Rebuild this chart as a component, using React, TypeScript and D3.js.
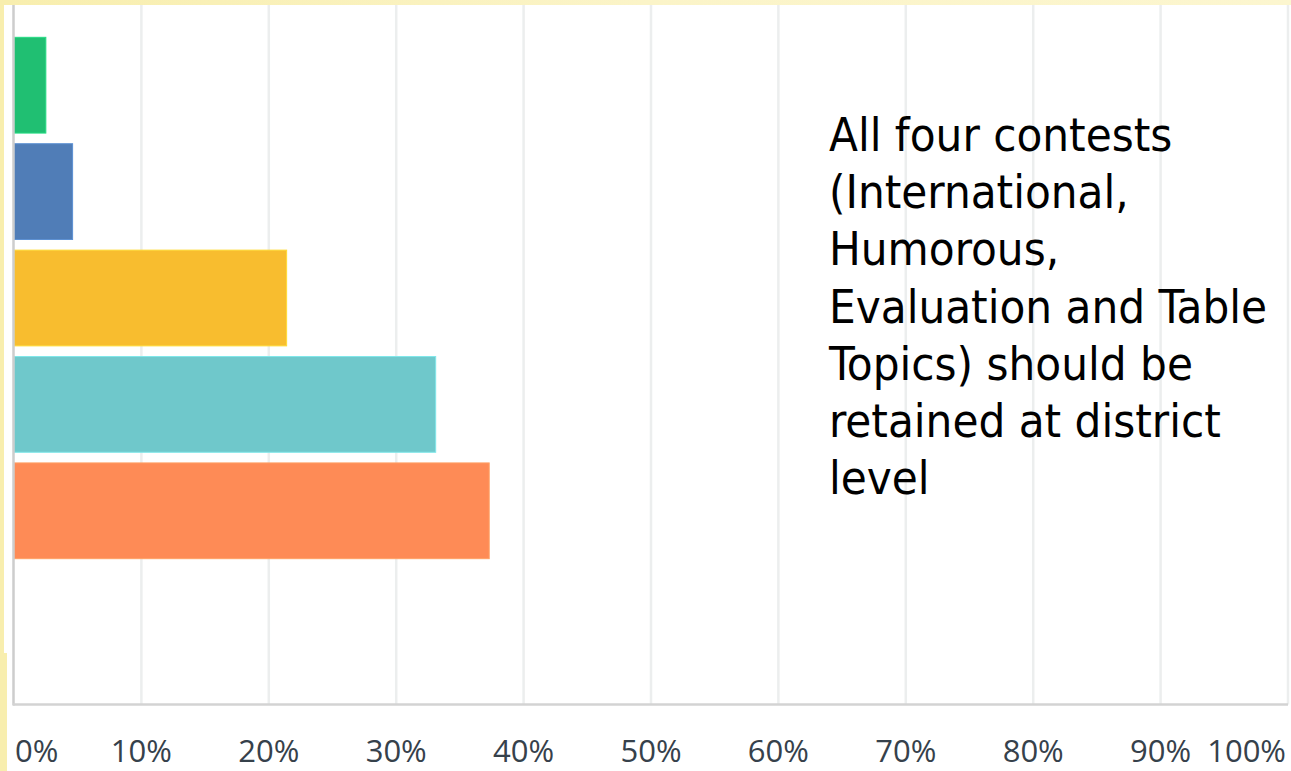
import React from "react";
import * as d3 from "d3";

const categories = ["Option 1", "Option 2", "Option 3", "Option 4", "Option 5"];
const values = [2.5, 4.6, 21.4, 33.1, 37.3];
const barColors = ["#20bf72", "#507db7", "#f8bd2f", "#6fc8cb", "#fe8b56"];
const tickValues = [0, 10, 20, 30, 40, 50, 60, 70, 80, 90, 100];
const tickLabels = ["0%", "10%", "20%", "30%", "40%", "50%", "60%", "70%", "80%", "90%", "100%"];
const noteLines = [
  "All four contests",
  "(International,",
  "Humorous,",
  "Evaluation and Table",
  "Topics) should be",
  "retained at district",
  "level",
];

const W = 1291;
const H = 771;

export default function App() {
  const x = d3.scaleLinear().domain([0, 100]).range([14, 1288]);
  const y = d3
    .scaleBand<string>()
    .domain(categories)
    .range([32, 564])
    .paddingInner(0.1)
    .paddingOuter(0.05);
  const plotTop = 5;
  const plotBottom = 704.5;

  return (
    <svg
      width={W}
      height={H}
      style={{ position: "absolute", left: 0, top: 0, display: "block" }}
    >
      <defs>
        <linearGradient id="yel" x1="0" x2="1" y1="0" y2="0">
          <stop offset="0" stopColor="#f8eeae" />
          <stop offset="0.5" stopColor="#fbf4c8" />
          <stop offset="1" stopColor="#fcf6cf" />
        </linearGradient>
      </defs>
      <rect x={0} y={0} width={W} height={H} fill="url(#yel)" />
      <rect x={0} y={0} width={8} height={H} fill="#f8eeae" />
      <rect x={4} y={5} width={W - 4} height={648} fill="#ffffff" />
      <rect x={7} y={652} width={W - 7} height={H - 652} fill="#ffffff" />

      {/* gridlines */}
      {tickValues.slice(1).map((t) => (
        <line
          key={"g" + t}
          x1={x(t)}
          x2={x(t)}
          y1={plotTop}
          y2={plotBottom}
          stroke="#eceeee"
          strokeWidth={2.5}
        />
      ))}

      {/* bars */}
      {categories.map((c, i) => (
        <rect
          key={c}
          x={x(0)}
          y={y(c)}
          width={x(values[i]) - x(0)}
          height={y.bandwidth()}
          fill={barColors[i]}
          stroke={d3.color(barColors[i])!.brighter(0.4).formatHex()}
          strokeWidth={1}
        />
      ))}

      {/* axes */}
      <line x1={13.5} x2={13.5} y1={plotTop} y2={plotBottom + 1} stroke="#cdcdcd" strokeWidth={2.5} />
      <line x1={13} x2={1288} y1={plotBottom} y2={plotBottom} stroke="#d3d3d3" strokeWidth={2.5} />

      {/* tick labels */}
      {tickValues.map((t, i) => (
        <text
          key={"t" + t}
          x={i === 0 ? x(t) + 1 : i === tickValues.length - 1 ? x(t) - 2 : x(t)}
          y={762}
          textAnchor={i === 0 ? "start" : i === tickValues.length - 1 ? "end" : "middle"}
          fontFamily="'Open Sans', sans-serif"
          fontSize={31}
          fill="#36414b"
        >
          {tickLabels[i]}
        </text>
      ))}

      {/* note */}
      <text
        fontFamily="'DejaVu Sans Condensed', 'DejaVu Sans', sans-serif"
        fontSize={47}
        fill="#000000"
      >
        {noteLines.map((l, i) => (
          <tspan key={i} x={829} y={151 + i * 57.2}>
            {l}
          </tspan>
        ))}
      </text>
    </svg>
  );
}
